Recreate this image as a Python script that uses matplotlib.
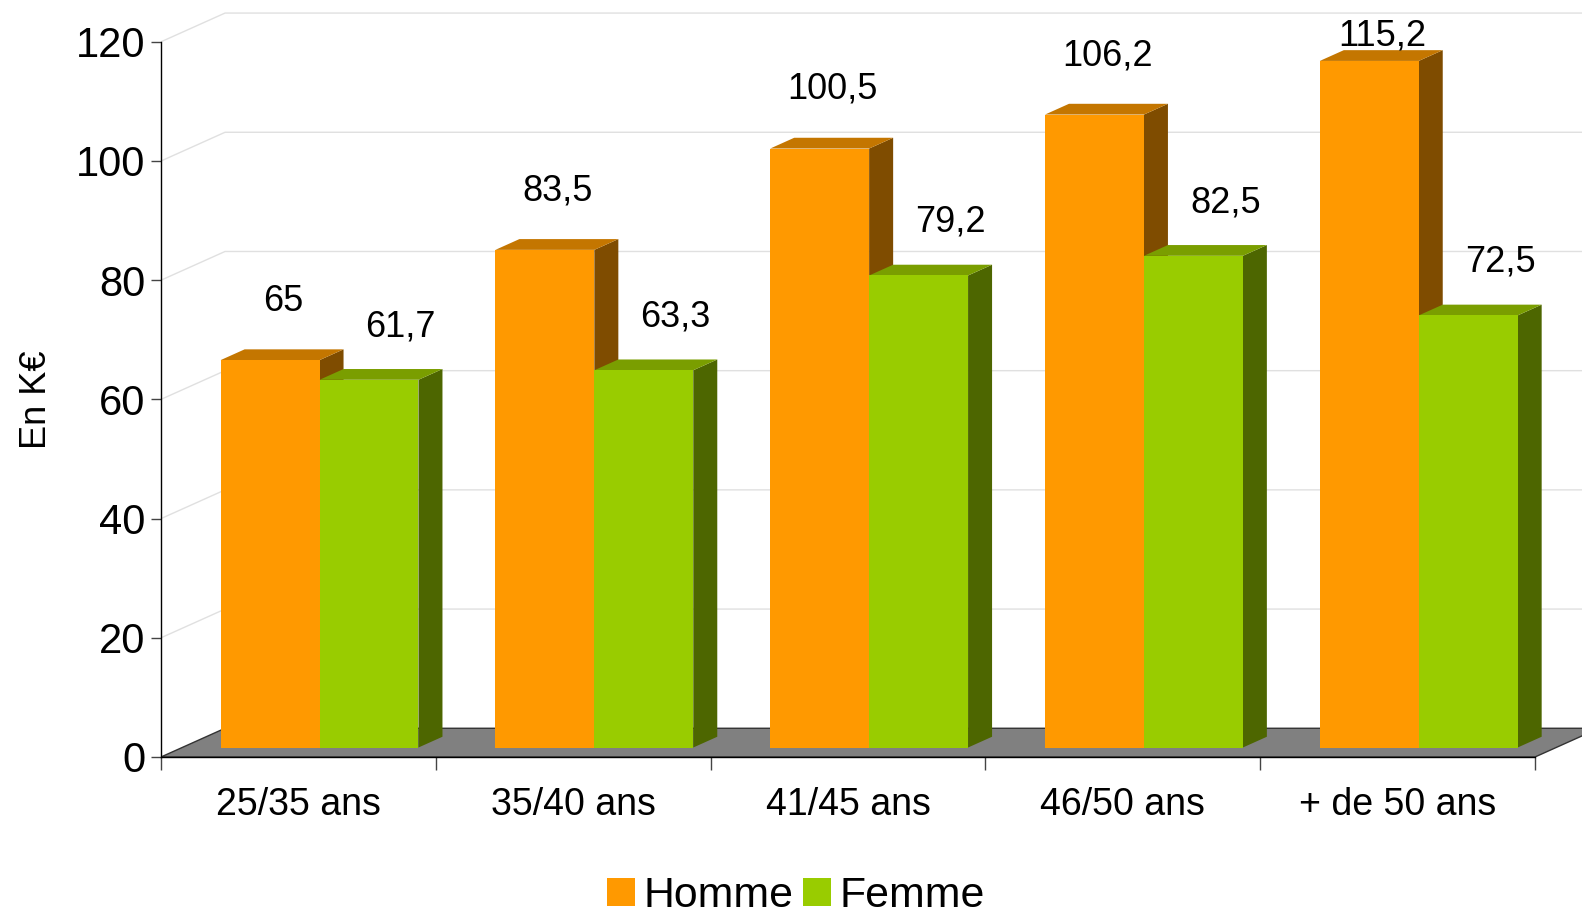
import matplotlib.pyplot as plt
from matplotlib.patches import Polygon, Patch

plt.rcParams['font.family'] = ['Liberation Sans', 'DejaVu Sans']

categories = ['25/35 ans', '35/40 ans', '41/45 ans', '46/50 ans', '+ de 50 ans']
homme = [65, 83.5, 100.5, 106.2, 115.2]
femme = [61.7, 63.3, 79.2, 82.5, 72.5]
labels_h = ['65', '83,5', '100,5', '106,2', '115,2']
labels_f = ['61,7', '63,3', '79,2', '82,5', '72,5']
yticks = [0, 20, 40, 60, 80, 100, 120]

# colours: front, top, side
orange = ('#ff9900', '#c47600', '#7f4c00')
green = ('#99cc00', '#7a9e00', '#4d6600')

# oblique depth of the chart floor, in data units
DX, DY = 0.233, 4.82
f0, fd = 0.33, 0.375      # bar front offset / bar depth (fraction of floor depth)
bw = 0.36                 # bar width
gap = 0.14

fig = plt.figure(figsize=(15.82, 9.16), dpi=100)
ax = fig.add_axes([161 / 1582, 159 / 916, 1421 / 1582, 745 / 916])
xmax = 1421 / 274.8
ax.set_xlim(0, xmax)
ax.set_ylim(0, 125)

# back wall grid lines
for v in yticks[1:]:
    ax.plot([0, DX, xmax], [v, v + DY, v + DY], color='#e0e0e0', lw=1, zorder=1)

# floor
ax.add_patch(Polygon([(0, 0), (5, 0), (5 + DX, DY), (DX, DY)], closed=True,
                     facecolor='#808080', edgecolor='#333333', lw=1, zorder=2))


def bar3d(x0, v, cols, z):
    xl, xr = x0 + f0 * DX, x0 + bw + f0 * DX
    yb, yt = f0 * DY, v + f0 * DY
    ddx, ddy = fd * DX, fd * DY
    ax.add_patch(Polygon([(xr, yb), (xr + ddx, yb + ddy), (xr + ddx, yt + ddy), (xr, yt)],
                         facecolor=cols[2], edgecolor='none', zorder=z))
    ax.add_patch(Polygon([(xl, yt), (xr, yt), (xr + ddx, yt + ddy), (xl + ddx, yt + ddy)],
                         facecolor=cols[1], edgecolor='none', zorder=z))
    ax.add_patch(Polygon([(xl, yb), (xr, yb), (xr, yt), (xl, yt)],
                         facecolor=cols[0], edgecolor='none', zorder=z))
    return (xl + xr) / 2


z = 3
for i in range(len(categories)):
    ch = bar3d(i + gap, homme[i], orange, z)
    cf = bar3d(i + gap + bw, femme[i], green, z + 1)
    z += 2
    ax.text(ch + 0.047, min(homme[i] + 11.5, 121), labels_h[i], ha='center', va='center',
            fontsize=26, zorder=50)
    ax.text(cf + 0.116, min(femme[i] + 10.5, 121), labels_f[i], ha='center', va='center',
            fontsize=26, zorder=50)

# axes
for s in ['top', 'right']:
    ax.spines[s].set_visible(False)
ax.spines['left'].set_bounds(0, 120)
ax.spines['bottom'].set_bounds(0, 5)
for s in ['left', 'bottom']:
    ax.spines[s].set_color('black')
    ax.spines[s].set_linewidth(1)
    ax.spines[s].set_zorder(40)
ax.set_yticks(yticks)
ax.set_yticklabels([str(t) for t in yticks], fontsize=30)
ax.tick_params(axis='y', length=7.5, width=1, color='#444444', pad=4)
ax.set_xticks(range(6))
ax.set_xticklabels([])
ax.set_xticks([i + 0.5 for i in range(5)], minor=True)
ax.set_xticklabels(categories, minor=True, fontsize=27)
ax.tick_params(axis='x', which='major', length=9, width=1, color='#444444')
ax.tick_params(axis='x', which='minor', length=0, pad=21.5)
ax.set_ylabel('En K€', fontsize=26, labelpad=15.5)
ax.yaxis.label.set_y(0.48)

handles = [Patch(facecolor=orange[0], label='Homme'), Patch(facecolor=green[0], label='Femme')]
fig.legend(handles=handles, loc='lower center', bbox_to_anchor=(0.503, -0.042), ncol=2,
           frameon=False, fontsize=30.8, handlelength=0.65, handleheight=0.65,
           handletextpad=0.2, columnspacing=0.22)

fig.savefig('out.png', dpi=100)
